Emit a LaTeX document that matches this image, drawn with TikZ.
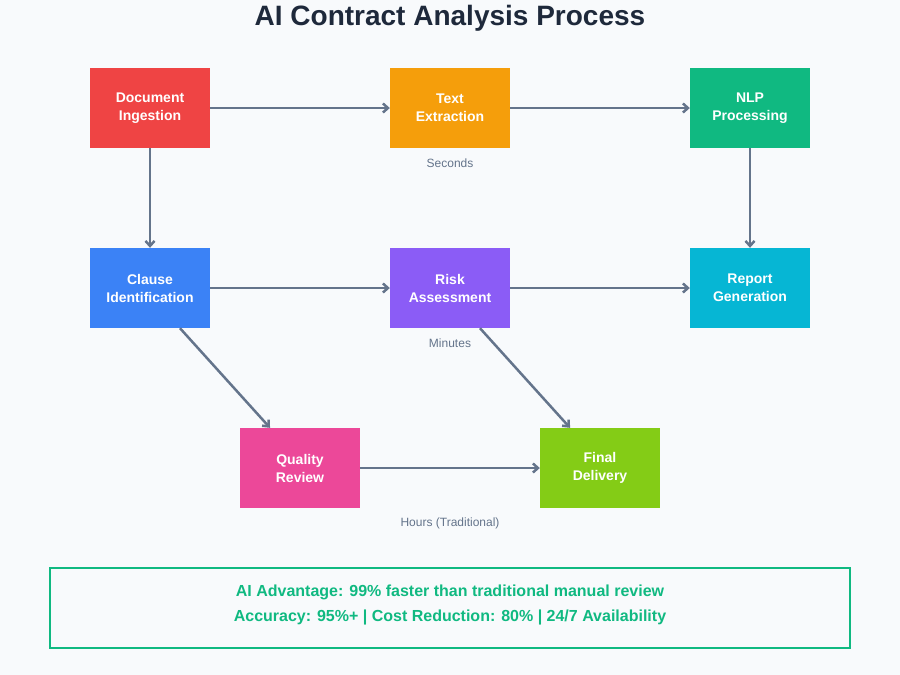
\documentclass[tikz,border=0pt]{standalone}
\usepackage{fontspec}
\setmainfont{Liberation Sans}
\usetikzlibrary{arrows.meta}
\definecolor{bgcol}{HTML}{F8FAFC}
\definecolor{arrcol}{HTML}{64748B}
\definecolor{titlecol}{HTML}{1E293B}
\definecolor{advgreen}{HTML}{10B981}

\begin{document}
\begin{tikzpicture}[x=1pt, y=-1pt,
    stage/.style={minimum width=120pt, minimum height=80pt, inner sep=0pt, text=white, align=center, font=\fontsize{14}{18}\selectfont\bfseries},
    flow/.style={arrcol, line width=2.5pt, -{Straight Barb[length=5pt, width=9pt]}},
    timing/.style={text=arrcol, font=\fontsize{12}{14}\selectfont}]
    \fill[bgcol] (0, 0) rectangle (900, 675);
    \useasboundingbox (0, 0) rectangle (900, 675);

    \node[titlecol, font=\fontsize{28}{34}\selectfont\bfseries] (title) at (450, 18) {AI Contract Analysis Process};

    \node[stage, fill={rgb,255:red,239;green,68;blue,68}] (ingest) at (150, 108) {Document\\Ingestion};
    \node[stage, fill={rgb,255:red,245;green,158;blue,11}] (extract) at (450, 108) {Text\\Extraction};
    \node[stage, fill={rgb,255:red,16;green,185;blue,129}] (nlp) at (750, 108) {NLP\\Processing};
    \node[stage, fill={rgb,255:red,59;green,130;blue,246}] (clause) at (150, 288) {Clause\\Identification};
    \node[stage, fill={rgb,255:red,139;green,92;blue,246}] (risk) at (450, 288) {Risk\\Assessment};
    \node[stage, fill={rgb,255:red,6;green,182;blue,212}] (report) at (750, 288) {Report\\Generation};
    \node[stage, fill={rgb,255:red,236;green,72;blue,153}] (quality) at (300, 468) {Quality\\Review};
    \node[stage, fill={rgb,255:red,132;green,204;blue,22}] (final) at (600, 468) {Final\\Delivery};

    \draw[flow] (ingest) -- (extract);
    \draw[flow] (extract) -- (nlp);
    \draw[flow] (ingest) -- (clause);
    \draw[flow] (nlp) -- (report);
    \draw[flow] (clause) -- (risk);
    \draw[flow] (risk) -- (report);
    \draw[flow] ([xshift=30pt]clause.south) -- ([xshift=-30pt]quality.north);
    \draw[flow] ([xshift=30pt]risk.south) -- ([xshift=-30pt]final.north);
    \draw[flow] (quality) -- (final);

    \node[timing] (seconds) at (450, 163) {Seconds};
    \node[timing] (minutes) at (450, 343) {Minutes};
    \node[timing] (hours) at (450, 523) {Hours (Traditional)};

    \draw[advgreen, line width=1.5pt] (50, 568) rectangle (850, 648);
    \node[advgreen, align=center, font=\fontsize{16}{25}\selectfont\bfseries] (summary) at (450, 605) {AI Advantage: 99\% faster than traditional manual review\\Accuracy: 95\%+ | Cost Reduction: 80\% | 24/7 Availability};
\end{tikzpicture}
\end{document}
